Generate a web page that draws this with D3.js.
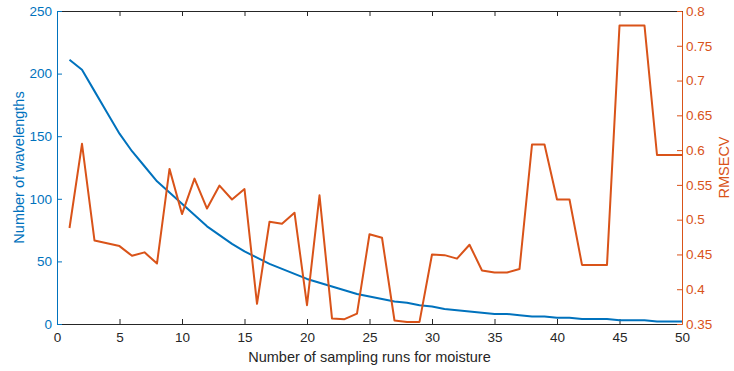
<!DOCTYPE html>
<html>
<head>
<meta charset="utf-8">
<script src="https://cdn.jsdelivr.net/npm/d3@7"></script>
<style>
  body { margin:0; background:#fff; }
  svg text { font-family: "Liberation Sans", Arial, Helvetica, sans-serif; }
</style>
</head>
<body>
<div id="chart"></div>
<script>
// sampling runs 1..50
var runs = d3.range(1, 51)
var wavelengths = [211,203,186,169,152,138,126,114,105,96,87,78,71,64,58,53,48,44,40,36,
  33,30,27,24,22,20,18,17,15,14,12,11,10,9,8,8,7,6,6,5,5,4,4,4,3,3,3,2,2,2]
var rmsecv = [0.488,0.609,0.470,0.466,0.462,0.448,0.453,0.437,0.573,0.508,
  0.559,0.516,0.549,0.529,0.544,0.379,0.497,0.494,0.510,0.377,
  0.535,0.358,0.357,0.365,0.479,0.474,0.355,0.353,0.353,0.450,
  0.449,0.444,0.464,0.427,0.424,0.424,0.429,0.608,0.608,0.529,
  0.529,0.435,0.435,0.435,0.779,0.779,0.779,0.593,0.593,0.593]
var xTicks = d3.range(0, 51, 5)
var yTicksL = d3.range(0, 251, 50)
var yTicksR = [0.35,0.4,0.45,0.5,0.55,0.6,0.65,0.7,0.75,0.8]

var W = 734, H = 371
var margin = {top: 11, right: 52, bottom: 47, left: 57}
var width = W - margin.left - margin.right
var height = H - margin.top - margin.bottom
var blue = "#0072BD", red = "#D95319", dark = "#262626"
var tickFs = 13.5, labFs = 14.5

var svg = d3.select("#chart").append("svg")
    .attr("width", W).attr("height", H)
  .append("g")
    .attr("transform", "translate(" + margin.left + "," + margin.top + ")")

var x = d3.scaleLinear().domain([0, 50]).range([0, width])
var yL = d3.scaleLinear().domain([0, 250]).range([height, 0])
var yR = d3.scaleLinear().domain([0.35, 0.8]).range([height, 0])

function styleAxis(g, col) {
  g.select(".domain").attr("stroke", col).attr("stroke-width", 1)
  g.selectAll(".tick line").attr("stroke", col)
  g.selectAll(".tick text").attr("fill", col).attr("font-size", tickFs)
}

// top box edge, ticks inside
svg.append("g")
    .call(d3.axisTop(x).tickValues(xTicks).tickSize(-5).tickFormat(""))
    .call(g => styleAxis(g, dark))

svg.append("g")
    .attr("transform", "translate(0," + height + ")")
    .call(d3.axisBottom(x).tickValues(xTicks).tickSizeInner(-5).tickSizeOuter(0).tickPadding(8))
    .call(g => styleAxis(g, dark))

svg.append("g")
    .call(d3.axisLeft(yL).tickValues(yTicksL).tickSizeInner(-5).tickSizeOuter(0).tickPadding(5))
    .call(g => styleAxis(g, blue))

svg.append("g")
    .attr("transform", "translate(" + width + ",0)")
    .call(d3.axisRight(yR).tickValues(yTicksR).tickSizeInner(-5).tickSizeOuter(0).tickPadding(4)
      .tickFormat(d3.format("~g")))
    .call(g => styleAxis(g, red))

var lineL = d3.line().x((d, i) => x(runs[i])).y(d => yL(d))
var lineR = d3.line().x((d, i) => x(runs[i])).y(d => yR(d))

svg.append("path").datum(wavelengths)
    .attr("fill", "none").attr("stroke", blue).attr("stroke-width", 2)
    .attr("stroke-linejoin", "round")
    .attr("d", lineL)

svg.append("path").datum(rmsecv)
    .attr("fill", "none").attr("stroke", red).attr("stroke-width", 2)
    .attr("stroke-linejoin", "round")
    .attr("d", lineR)

// labels
svg.append("text")
    .attr("x", width / 2).attr("y", height + 38)
    .attr("text-anchor", "middle").attr("font-size", labFs).attr("fill", dark)
    .text("Number of sampling runs for moisture")

svg.append("text")
    .attr("transform", "translate(" + (-33.5) + "," + (height / 2) + ") rotate(-90)")
    .attr("text-anchor", "middle").attr("font-size", labFs).attr("fill", blue)
    .text("Number of wavelengths")

svg.append("text")
    .attr("transform", "translate(" + (width + 47) + "," + (height / 2) + ") rotate(-90)")
    .attr("text-anchor", "middle").attr("font-size", labFs).attr("fill", red)
    .text("RMSECV")
</script>
</body>
</html>
